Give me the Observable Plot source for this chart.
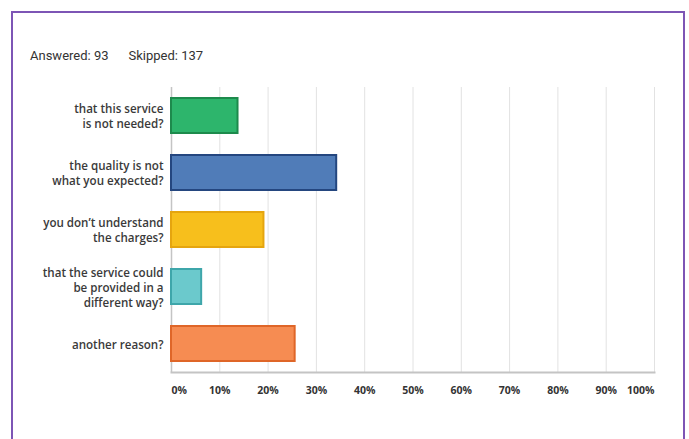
<!DOCTYPE html>
<html><head><meta charset="utf-8">
<script src="https://cdn.jsdelivr.net/npm/d3@7"></script>
<script src="https://cdn.jsdelivr.net/npm/@observablehq/plot@0.6"></script>
<style>
body{margin:0;background:#fff;width:689px;height:439px;overflow:hidden;position:relative;font-family:Lato,sans-serif}
#frame{position:absolute;left:11px;top:11px;width:670px;height:440px;border:2px solid #7d55b5;border-bottom:none;}
#stats{position:absolute;left:30px;top:48px;font:13px Roboto,sans-serif;color:#333}
#chart{position:absolute;left:0;top:70px}
</style></head><body>
<div id="frame"></div>
<div id="stats"><span id="ans"></span><span id="skp" style="margin-left:20px"></span></div>
<div id="chart"></div>
<script>
const categories = [
  "that this service\nis not needed?",
  "the quality is not\nwhat you expected?",
  "you don\u2019t understand\nthe charges?",
  "that the service could\nbe provided in a\ndifferent way?",
  "another reason?"
];
const values = [13.98, 34.41, 19.35, 6.45, 25.81];
const fillColors = ["#2db56c", "#507cb8", "#f7bf1c", "#6bc9cc", "#f68c52"];
const strokeColors = ["#1d8a4c", "#24467f", "#e5a50f", "#3ea6aa", "#df6628"];
const xTicks = [0, 10, 20, 30, 40, 50, 60, 70, 80, 90, 100];
const answered = 93;
const skipped = 137;

document.getElementById("ans").textContent = "Answered: " + answered;
document.getElementById("skp").textContent = "Skipped: " + skipped;

const data = categories.map((c, i) => ({category: c, value: values[i], fill: fillColors[i], stroke: strokeColors[i]}));
const midTicks = xTicks.filter(t => t !== 0 && t !== 100);

const chart = Plot.plot({
  width: 689,
  height: 369,
  marginLeft: 171,
  marginRight: 35,
  marginTop: 17,
  marginBottom: 67,
  style: {fontFamily: "'Open Sans', sans-serif", fontSize: "11px", color: "#333", background: "transparent"},
  x: {domain: [0, 100], axis: null},
  y: {domain: categories, axis: null, paddingInner: 0.355, paddingOuter: 0.16},
  marks: [
    Plot.gridX(xTicks, {stroke: "#e2e2e2", strokeOpacity: 1}),
    Plot.ruleX([0], {stroke: "#c4c4c4", strokeWidth: 1.5}),
    Plot.frame({anchor: "bottom", stroke: "#c4c4c4", strokeWidth: 2}),
    Plot.barX(data, {x: "value", y: "category", fill: "fill", stroke: "stroke", strokeWidth: 2, insetTop: 1, insetBottom: 1, insetRight: 1}),
    Plot.text(data, {y: "category", text: "category", frameAnchor: "left", textAnchor: "end", dx: -8, lineHeight: 1.3, fill: "#3a3a3a", fontWeight: 600, fontSize: 11.6}),
    Plot.text([0], {x: d => d, text: d => d + "%", frameAnchor: "bottom", dy: 18, textAnchor: "start", lineAnchor: "middle", fill: "#333", fontWeight: 700, fontSize: 10.5}),
    Plot.text(midTicks, {x: d => d, text: d => d + "%", frameAnchor: "bottom", dy: 18, textAnchor: "middle", lineAnchor: "middle", fill: "#333", fontWeight: 700, fontSize: 10.5}),
    Plot.text([100], {x: d => d, text: d => d + "%", frameAnchor: "bottom", dy: 18, textAnchor: "end", lineAnchor: "middle", fill: "#333", fontWeight: 700, fontSize: 10.5})
  ]
});
document.getElementById("chart").appendChild(chart);
</script>
</body></html>
